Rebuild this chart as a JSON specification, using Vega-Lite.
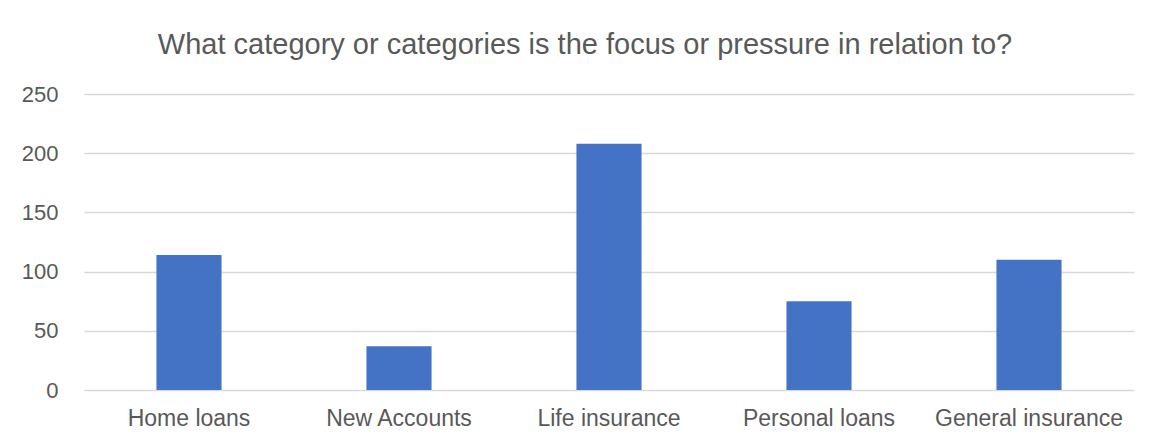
{
  "$schema": "https://vega.github.io/schema/vega-lite/v6.json",
  "width": 1050,
  "height": 296,
  "autosize": {"type": "none"},
  "padding": {"left": 84, "top": 94, "right": 22, "bottom": 55},
  "background": "white",
  "title": {
    "text": "What category or categories is the focus or pressure in relation to?",
    "font": "Liberation Sans",
    "fontSize": 29,
    "fontWeight": "normal",
    "color": "#595959",
    "anchor": "middle",
    "frame": "group",
    "dx": -24,
    "offset": 23
  },
  "data": {
    "values": [
      {"category": "Home loans", "count": 114},
      {"category": "New Accounts", "count": 37},
      {"category": "Life insurance", "count": 208},
      {"category": "Personal loans", "count": 75},
      {"category": "General insurance", "count": 110}
    ]
  },
  "mark": {"type": "bar", "color": "#4472C4"},
  "encoding": {
    "x": {
      "field": "category",
      "type": "nominal",
      "sort": null,
      "scale": {"paddingInner": 0.69, "paddingOuter": 0.345},
      "axis": {
        "title": null,
        "labelAngle": 0,
        "labelFont": "Liberation Sans",
        "labelFontSize": 23,
        "labelColor": "#595959",
        "labelPadding": 17,
        "labelLimit": 0,
        "labelOverlap": false,
        "ticks": false,
        "domain": false,
        "grid": false
      }
    },
    "y": {
      "field": "count",
      "type": "quantitative",
      "scale": {"domain": [0, 250]},
      "axis": {
        "title": null,
        "values": [0, 50, 100, 150, 200, 250],
        "labelFont": "Liberation Sans",
        "labelFontSize": 22,
        "labelColor": "#595959",
        "labelPadding": 26,
        "ticks": false,
        "domain": false,
        "grid": true,
        "gridColor": "#d9d9d9",
        "gridWidth": 1.5
      }
    }
  },
  "config": {"view": {"stroke": null}}
}
